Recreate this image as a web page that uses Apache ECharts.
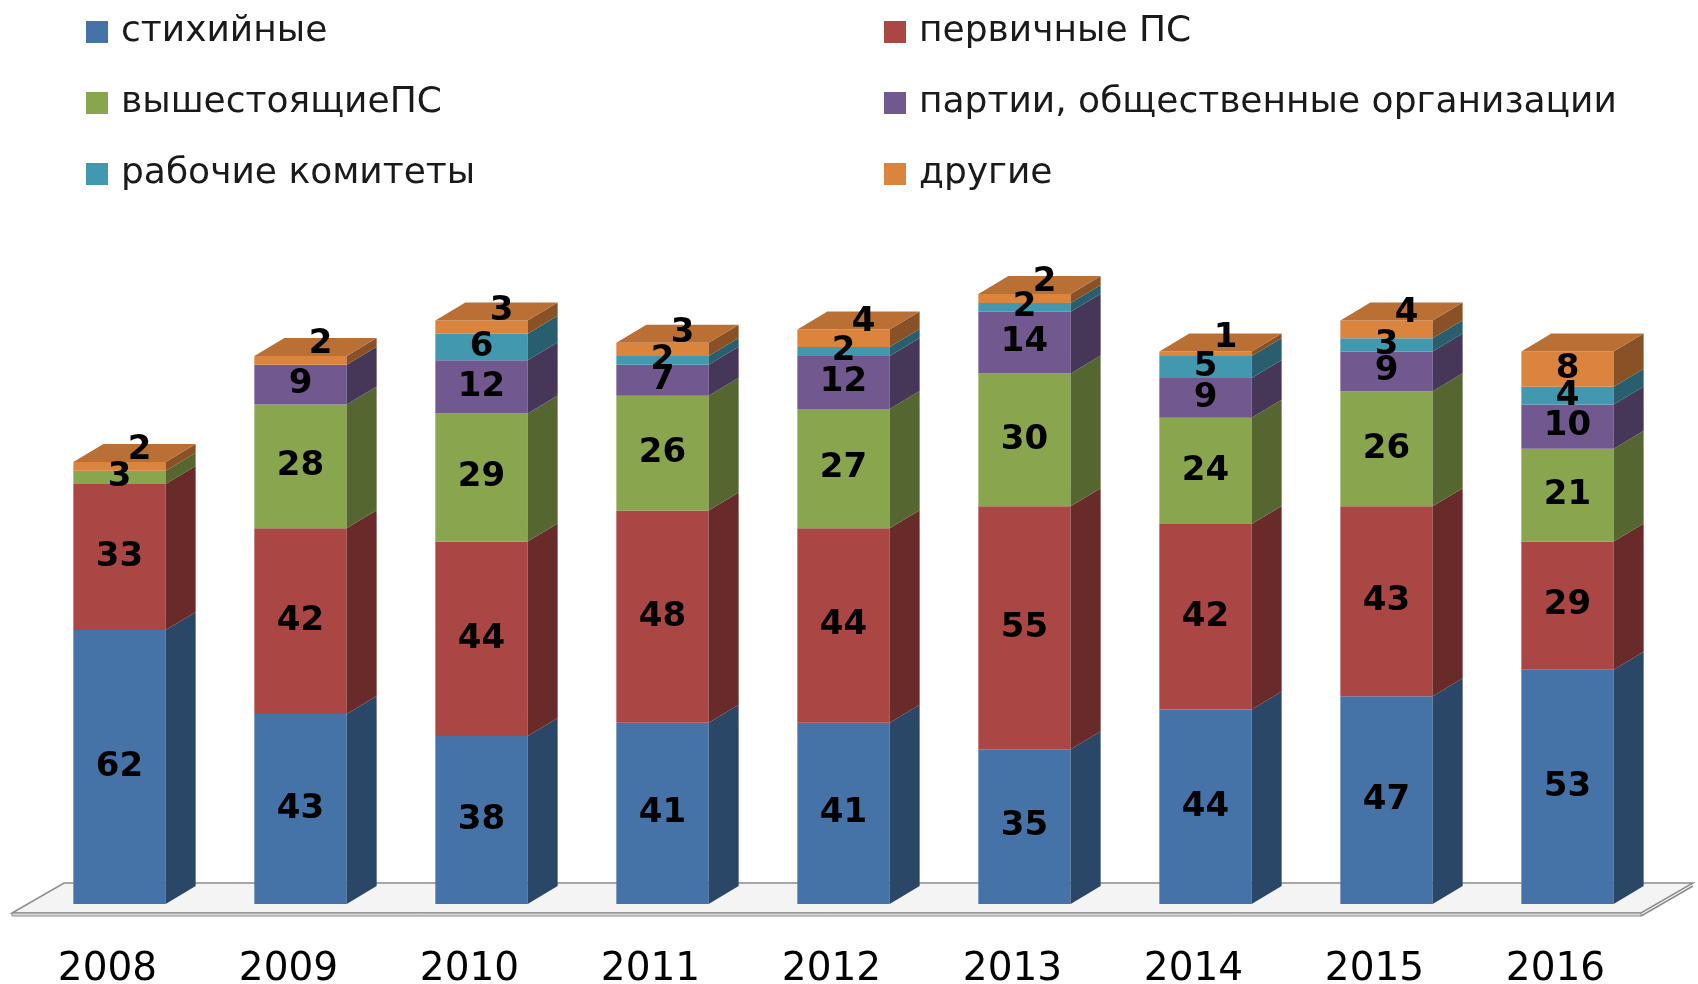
<!DOCTYPE html>
<html>
<head>
<meta charset="utf-8">
<script src="https://cdn.jsdelivr.net/npm/echarts@6/dist/echarts.min.js"></script>
<style>
  html, body { margin: 0; padding: 0; background: #fff; }
  #chart { width: 1698px; height: 984px; }
</style>
</head>
<body>
<div id="chart"></div>
<script>
// годы и значения по слоям (снизу вверх)
const years = ['2008', '2009', '2010', '2011', '2012', '2013', '2014', '2015', '2016'];
const names = ['стихийные', 'первичные ПС', 'вышестоящиеПС', 'партии, общественные организации', 'рабочие комитеты', 'другие'];
const stikhiynye = [62, 43, 38, 41, 41, 35, 44, 47, 53];
const pervichnye = [33, 42, 44, 48, 44, 55, 42, 43, 29];
const vyshestoyashchie = [3, 28, 29, 26, 27, 30, 24, 26, 21];
const partii = [0, 9, 12, 7, 12, 14, 9, 9, 10];
const komitety = [0, 0, 6, 2, 2, 2, 5, 3, 4];
const drugie = [2, 2, 3, 3, 4, 2, 1, 4, 8];

const layers = [stikhiynye, pervichnye, vyshestoyashchie, partii, komitety, drugie];
const colors = ['#4572A7', '#AA4643', '#89A54E', '#71588F', '#4198AF', '#DB843D'];

const DX = 30, DY = 18;   // глубина 3D

function shade(hex, k) {
  const n = parseInt(hex.slice(1), 16);
  const r = Math.round(((n >> 16) & 255) * k);
  const g = Math.round(((n >> 8) & 255) * k);
  const b = Math.round((n & 255) * k);
  return 'rgb(' + r + ',' + g + ',' + b + ')';
}

function makeRender(color) {
  return function (params, api) {
    const idx = api.value(0), base = api.value(1), val = api.value(2), isTop = api.value(3);
    if (!val) return;
    const band = api.size([1, 0])[0];
    const w = band * 0.51;
    const pb = api.coord([idx, base]);
    const pt = api.coord([idx, base + val]);
    const x0 = pb[0] - w / 2 + 12, x1 = x0 + w;
    const yb = pb[1], yt = pt[1];
    const children = [
      { type: 'rect', shape: { x: x0, y: yt, width: w, height: yb - yt },
        style: { fill: color } },
      { type: 'polygon', shape: { points: [[x1, yb], [x1, yt], [x1 + DX, yt - DY], [x1 + DX, yb - DY]] },
        style: { fill: shade(color, 0.62) } }
    ];
    if (isTop) {
      children.push({ type: 'polygon',
        shape: { points: [[x0, yt], [x1, yt], [x1 + DX, yt - DY], [x0 + DX, yt - DY]] },
        style: { fill: shade(color, 0.85) } });
    }
    let lx = (x0 + x1) / 2, ly = (yb + yt) / 2;
    if (isTop && val < 5) { lx += 20; ly -= 16; }
    children.push({ type: 'text', z2: 10,
      style: { text: String(val), x: lx, y: ly, align: 'center', verticalAlign: 'middle',
        font: 'bold 34px "DejaVu Sans"', fill: '#000' } });
    return { type: 'group', children: children };
  };
}

const series = [{
  type: 'custom',
  silent: true,
  data: [[0]],
  renderItem: function (params, api) {
    const cs = params.coordSys;
    const fy = cs.y + cs.height + 9, by = fy - 30;
    const fl = cs.x - 5, fr = cs.x + cs.width - 5;
    return { type: 'group', children: [
      { type: 'polygon', shape: { points: [[fl, fy], [fr, fy], [fr + 52, by], [fl + 52, by]] },
        style: { fill: '#F4F4F4', stroke: '#8C8C8C', lineWidth: 1.5 } },
      { type: 'polygon', shape: { points: [[fl, fy], [fr, fy], [fr, fy + 3], [fl, fy + 3]] },
        style: { fill: '#D9D9D9', stroke: '#8C8C8C', lineWidth: 1 } },
      { type: 'line', shape: { x1: fr, y1: fy + 3, x2: fr + 52, y2: by + 3 },
        style: { stroke: '#8C8C8C', lineWidth: 1.5 } }
    ] };
  }
}];

layers.forEach(function (arr, li) {
  const data = arr.map(function (v, i) {
    let base = 0;
    for (let k = 0; k < li; k++) base += layers[k][i];
    let top = 1;
    for (let k = li + 1; k < layers.length; k++) if (layers[k][i]) top = 0;
    return [i, base, v, top];
  });
  series.push({
    name: names[li],
    type: 'custom',
    renderItem: makeRender(colors[li]),
    itemStyle: { color: colors[li] },
    encode: { x: 0, y: [1, 2] },
    data: data
  });
});

const legendText = { fontFamily: 'DejaVu Sans', fontSize: 36, color: '#1a1a1a', lineHeight: 38,
  padding: [0, 0, 0, 8] };

const option = {
  backgroundColor: '#fff',
  animation: false,
  legend: [
    { data: [names[0], names[2], names[4]], orient: 'vertical', left: 81, top: 8,
      icon: 'rect', itemWidth: 22, itemHeight: 22, itemGap: 33, textStyle: legendText },
    { data: [names[1], names[3], names[5]], orient: 'vertical', left: 879, top: 8,
      icon: 'rect', itemWidth: 22, itemHeight: 22, itemGap: 33, textStyle: legendText }
  ],
  grid: { left: 17, right: 52, top: 241, bottom: 80, containLabel: false, outerBoundsMode: 'none' },
  xAxis: {
    type: 'category',
    data: years,
    axisLine: { show: false },
    axisTick: { show: false },
    axisLabel: { margin: 46, fontFamily: 'DejaVu Sans', fontSize: 39, color: '#000' }
  },
  yAxis: { type: 'value', min: 0, max: 150, show: false, splitLine: { show: false } },
  series: series
};

const chart = echarts.init(document.getElementById('chart'));
chart.setOption(option);
</script>
</body>
</html>
